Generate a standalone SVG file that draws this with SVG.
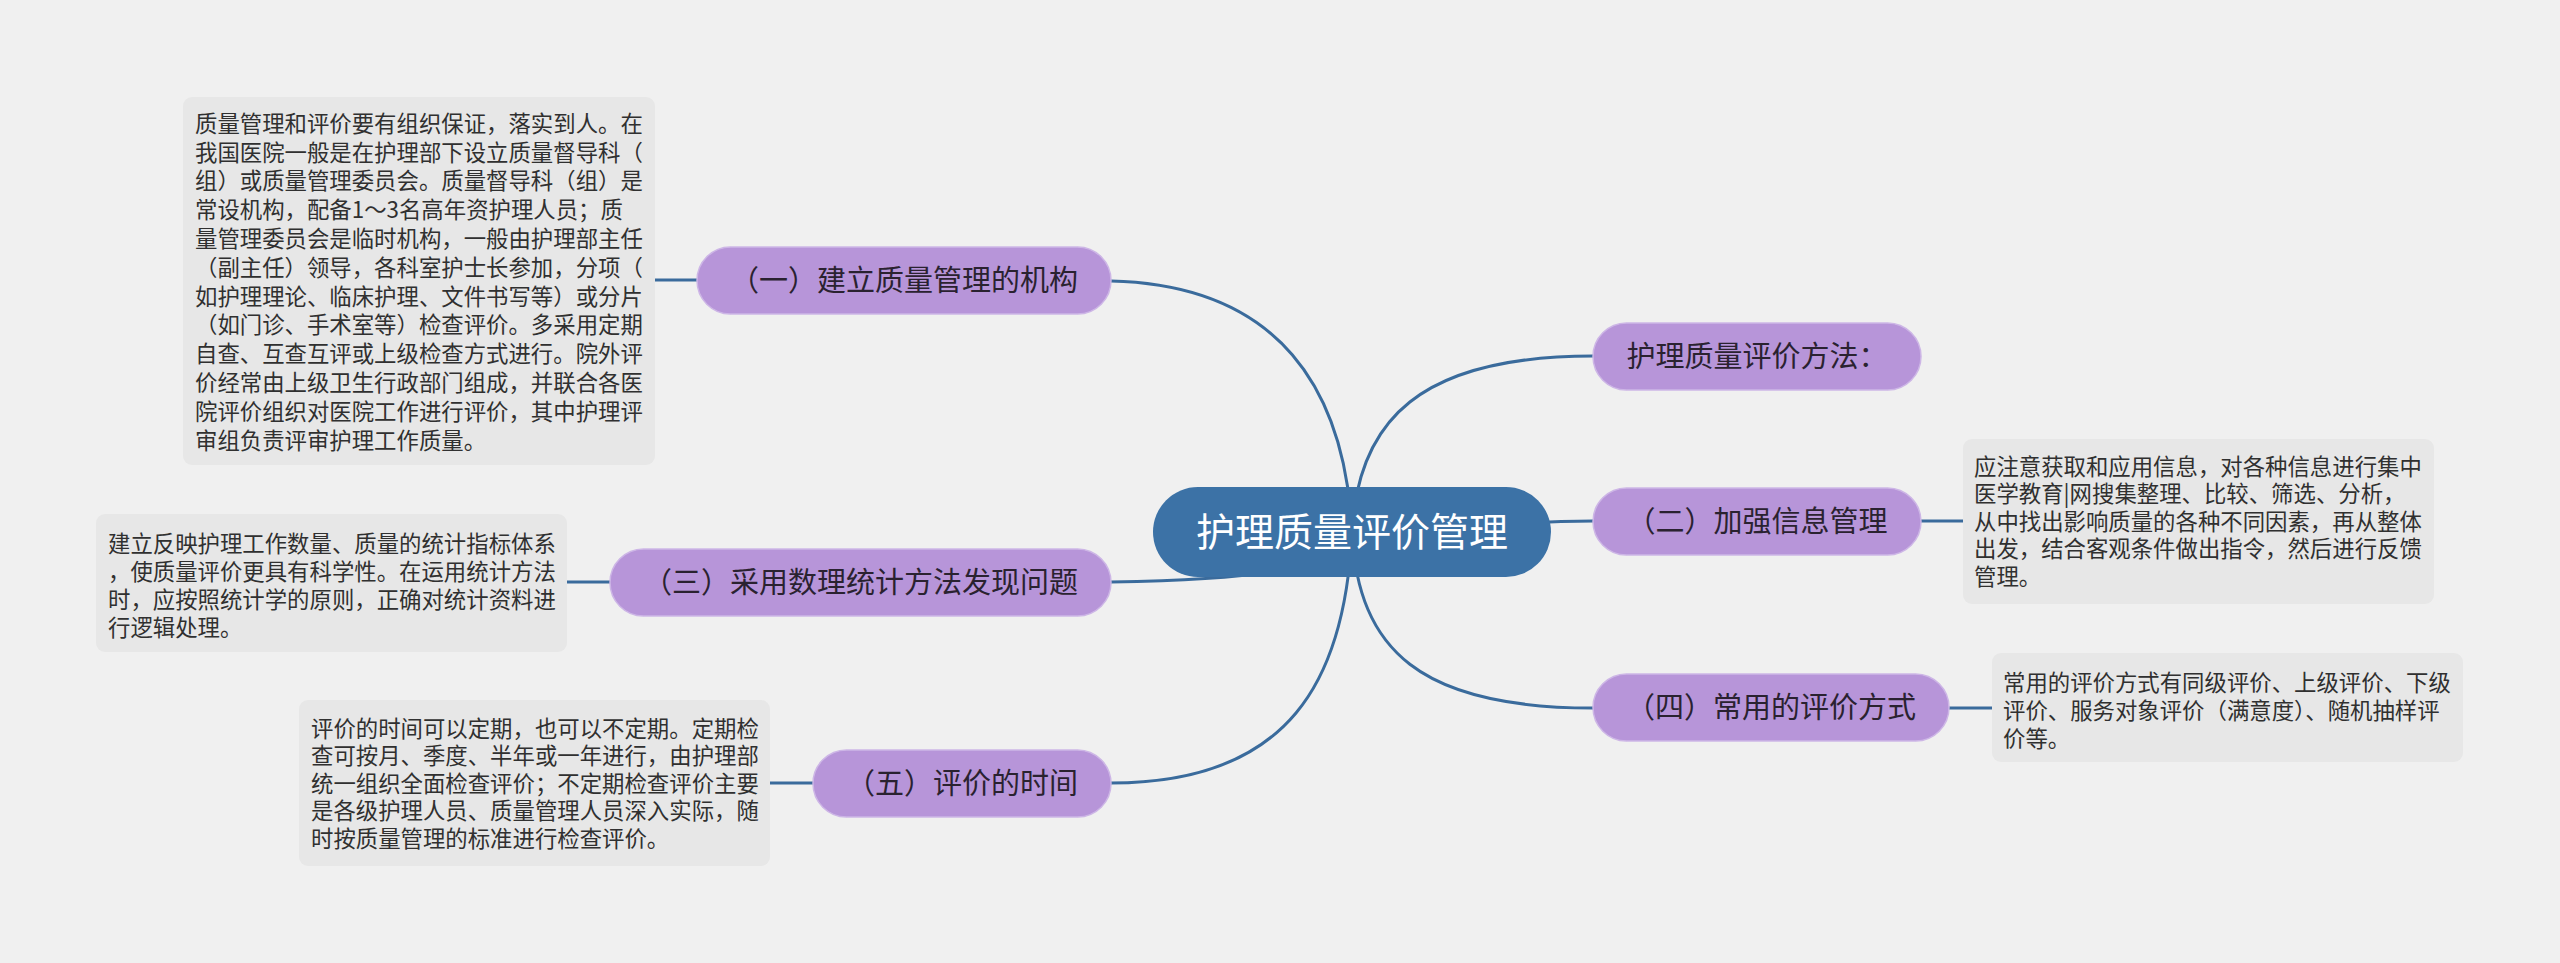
<svg xmlns="http://www.w3.org/2000/svg" width="2560" height="963" viewBox="0 0 2560 963">
<style>
.bg{fill:#f0f0f0}
.conn{fill:none;stroke:#3a6b9c;stroke-width:3;stroke-linecap:round}
.topic{fill:#b795d9;stroke:#cdb6e6;stroke-width:1.5}
.root{fill:#3c72a6}
.note{fill:#e7e7e7}
.tl{font-family:"Noto Sans CJK SC","Noto Sans",sans-serif;font-size:29px;fill:#2a2230;text-anchor:middle}
.rl{font-family:"Noto Sans CJK SC","Noto Sans",sans-serif;font-size:39px;fill:#ffffff;text-anchor:middle}
.nt{font-family:"Noto Sans CJK SC","Noto Sans",sans-serif;font-size:22.4px;fill:#303030}
</style>
<rect class="bg" x="0" y="0" width="2560" height="963"/>
<g id="connectors">
<path class="conn" d="M1111,281 C1280,285 1345,390 1352,532"/>
<path class="conn" d="M1593,356 C1420,356 1358,420 1352,532"/>
<path class="conn" d="M1352,532 C1450,532 1500,521 1593,521"/>
<path class="conn" d="M1111,582 C1250,580 1330,570 1352,532"/>
<path class="conn" d="M1593,708 C1420,708 1358,650 1352,532"/>
<path class="conn" d="M1111,783 C1290,783 1345,680 1352,532"/>
<path class="conn" d="M655,280 H697"/>
<path class="conn" d="M567,582 H610"/>
<path class="conn" d="M770,783 H813"/>
<path class="conn" d="M1921,521 H1963"/>
<path class="conn" d="M1949,708 H1992"/>
</g>
<g id="root">
<rect class="root" x="1153" y="487" width="398" height="90" rx="45"/>
<text class="rl" x="1352" y="546">护理质量评价管理</text>
</g>
<g id="topic-1">
<rect class="topic" x="697" y="247" width="414" height="67" rx="33.5"/>
<text class="tl" x="904" y="291">（一）建立质量管理的机构</text>
</g>
<g id="topic-method">
<rect class="topic" x="1593" y="323" width="328" height="67" rx="33.5"/>
<text class="tl" x="1757" y="367">护理质量评价方法：</text>
</g>
<g id="topic-2">
<rect class="topic" x="1593" y="488" width="328" height="67" rx="33.5"/>
<text class="tl" x="1757" y="532">（二）加强信息管理</text>
</g>
<g id="topic-3">
<rect class="topic" x="610" y="549" width="501" height="67" rx="33.5"/>
<text class="tl" x="860.5" y="593">（三）采用数理统计方法发现问题</text>
</g>
<g id="topic-4">
<rect class="topic" x="1593" y="674" width="356" height="67" rx="33.5"/>
<text class="tl" x="1771" y="718">（四）常用的评价方式</text>
</g>
<g id="topic-5">
<rect class="topic" x="813" y="750" width="298" height="67" rx="33.5"/>
<text class="tl" x="962" y="794">（五）评价的时间</text>
</g>
<g id="note-1">
<rect class="note" x="183" y="97" width="472" height="368" rx="9"/>
<text class="nt" x="195" y="131.8">
<tspan x="195">质量管理和评价要有组织保证，落实到人。在</tspan>
<tspan x="195" dy="28.8">我国医院一般是在护理部下设立质量督导科（</tspan>
<tspan x="195" dy="28.8">组）或质量管理委员会。质量督导科（组）是</tspan>
<tspan x="195" dy="28.8">常设机构，配备1～3名高年资护理人员；质</tspan>
<tspan x="195" dy="28.8">量管理委员会是临时机构，一般由护理部主任</tspan>
<tspan x="195" dy="28.8">（副主任）领导，各科室护士长参加，分项（</tspan>
<tspan x="195" dy="28.8">如护理理论、临床护理、文件书写等）或分片</tspan>
<tspan x="195" dy="28.8">（如门诊、手术室等）检查评价。多采用定期</tspan>
<tspan x="195" dy="28.8">自查、互查互评或上级检查方式进行。院外评</tspan>
<tspan x="195" dy="28.8">价经常由上级卫生行政部门组成，并联合各医</tspan>
<tspan x="195" dy="28.8">院评价组织对医院工作进行评价，其中护理评</tspan>
<tspan x="195" dy="28.8">审组负责评审护理工作质量。</tspan>
</text>
</g>
<g id="note-3">
<rect class="note" x="96" y="514" width="471" height="138" rx="9"/>
<text class="nt" x="108" y="551.5">
<tspan x="108">建立反映护理工作数量、质量的统计指标体系</tspan>
<tspan x="108" dy="28">，使质量评价更具有科学性。在运用统计方法</tspan>
<tspan x="108" dy="28">时，应按照统计学的原则，正确对统计资料进</tspan>
<tspan x="108" dy="28">行逻辑处理。</tspan>
</text>
</g>
<g id="note-5">
<rect class="note" x="299" y="700" width="471" height="166" rx="9"/>
<text class="nt" x="311" y="736.5">
<tspan x="311">评价的时间可以定期，也可以不定期。定期检</tspan>
<tspan x="311" dy="27.5">查可按月、季度、半年或一年进行，由护理部</tspan>
<tspan x="311" dy="27.5">统一组织全面检查评价；不定期检查评价主要</tspan>
<tspan x="311" dy="27.5">是各级护理人员、质量管理人员深入实际，随</tspan>
<tspan x="311" dy="27.5">时按质量管理的标准进行检查评价。</tspan>
</text>
</g>
<g id="note-2">
<rect class="note" x="1963" y="439" width="471" height="165" rx="9"/>
<text class="nt" x="1974" y="474.5">
<tspan x="1974">应注意获取和应用信息，对各种信息进行集中</tspan>
<tspan x="1974" dy="27.6">医学教育|网搜集整理、比较、筛选、分析，</tspan>
<tspan x="1974" dy="27.6">从中找出影响质量的各种不同因素，再从整体</tspan>
<tspan x="1974" dy="27.6">出发，结合客观条件做出指令，然后进行反馈</tspan>
<tspan x="1974" dy="27.6">管理。</tspan>
</text>
</g>
<g id="note-4">
<rect class="note" x="1992" y="653" width="471" height="109" rx="9"/>
<text class="nt" x="2003" y="691.2">
<tspan x="2003">常用的评价方式有同级评价、上级评价、下级</tspan>
<tspan x="2003" dy="27.8">评价、服务对象评价（满意度）、随机抽样评</tspan>
<tspan x="2003" dy="27.8">价等。</tspan>
</text>
</g>
</svg>
